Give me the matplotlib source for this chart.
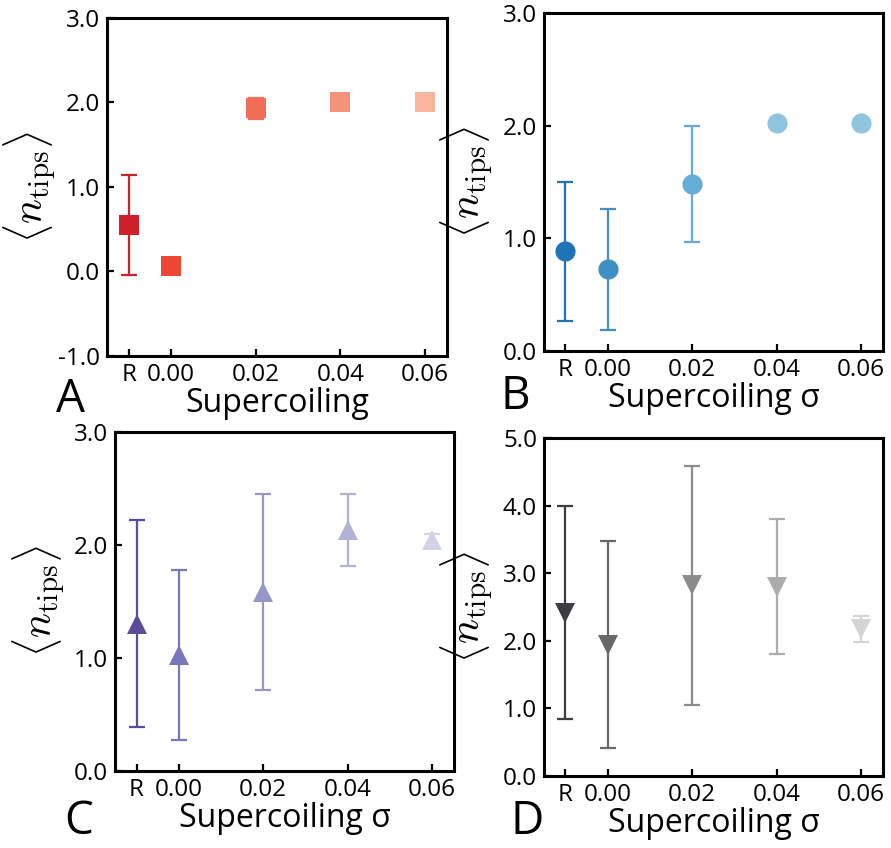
import numpy as np
import matplotlib
matplotlib.use("Agg")
import matplotlib.pyplot as plt

plt.rcParams['font.family'] = ['Open Sans', 'DejaVu Sans']
plt.rcParams['mathtext.fontset'] = 'cm'

# x positions: "R" sits half a step left of 0.00
xpos = [-0.01, 0.0, 0.02, 0.04, 0.06]
xticklabels = ["R", "0.00", "0.02", "0.04", "0.06"]

# panel A
a_y = [0.55, 0.06, 1.93, 2.00, 2.00]
a_err = [0.59, 0.0, 0.12, 0.0, 0.0]
a_colors = ['#d0202c', '#ee4534', '#f26d56', '#f4937a', '#f7b59d']

# panel B
b_y = [0.885, 0.725, 1.485, 2.02, 2.02]
b_err = [0.615, 0.535, 0.515, 0.0, 0.0]
b_colors = ['#1f73b7', '#3f8fc5', '#65acd6', '#91c4de', '#91c4de']

# panel C
c_y = [1.305, 1.025, 1.585, 2.13, 2.04]
c_err = [0.915, 0.755, 0.865, 0.32, 0.06]
c_colors = ['#5a4b9c', '#7877bb', '#9896c8', '#b1b2d6', '#d2d2e7']

# panel D
d_y = [2.415, 1.945, 2.82, 2.80, 2.175]
d_err = [1.575, 1.535, 1.77, 1.00, 0.195]
d_colors = ['#3b3d40', '#67686a', '#8b8b8b', '#acacac', '#d4d4d4']

fig = plt.figure(figsize=(8.91, 8.48), dpi=100)

panels = [
    # rect, y, err, colors, marker, ylim, yticks, letter, letter pos (baseline), xlabel
    ([0.1201, 0.5802, 0.3816, 0.3986], a_y, a_err, a_colors, 's', (-1, 3), [-1, 0, 1, 2, 3],
     'A', (71, 412), 'Supercoiling'),
    ([0.6105, 0.5861, 0.3805, 0.3986], b_y, b_err, b_colors, 'o', (0, 3), [0, 1, 2, 3],
     'B', (515, 409), 'Supercoiling σ'),
    ([0.1291, 0.0908, 0.3805, 0.3998], c_y, c_err, c_colors, '^', (0, 3), [0, 1, 2, 3],
     'C', (79, 834), 'Supercoiling σ'),
    ([0.6105, 0.0849, 0.3805, 0.3986], d_y, d_err, d_colors, 'v', (0, 5), [0, 1, 2, 3, 4, 5],
     'D', (527, 834), 'Supercoiling σ'),
]

for rect, ys, errs, cols, mk, ylim, yt, letter, lpos, xl in panels:
    ax = fig.add_axes(rect)
    for x, y, e, c in zip(xpos, ys, errs, cols):
        if e > 0:
            ax.errorbar(x, y, yerr=e, fmt='none', ecolor=c, elinewidth=1.6,
                        capsize=6, capthick=1.6, zorder=2)
        ax.plot(x, y, marker=mk, markersize=14.5, color=c, markeredgewidth=0,
                linestyle='none', zorder=3)
    ax.set_xlim(-0.0151, 0.0652)
    ax.set_ylim(*ylim)
    ax.set_xticks(xpos)
    ax.set_xticklabels(xticklabels)
    ax.set_yticks(yt)
    ax.set_yticklabels(["%.1f" % v for v in yt])
    ax.tick_params(direction='in', length=5, width=1.6, labelsize=17.5, pad=5)
    ax.tick_params(axis='y', pad=5)
    for s in ax.spines.values():
        s.set_linewidth(2.2)
    ax.set_ylabel(r'$\langle n_{\mathrm{tips}} \rangle$', fontsize=30)
    ax.yaxis.set_label_coords(-0.14, 0.5)
    ax.set_xlabel(xl, fontsize=23, labelpad=0)
    fig.text(lpos[0] / 891, 1 - lpos[1] / 848, letter, fontsize=33,
             ha='center', va='baseline')

fig.savefig('out.png', dpi=100)
